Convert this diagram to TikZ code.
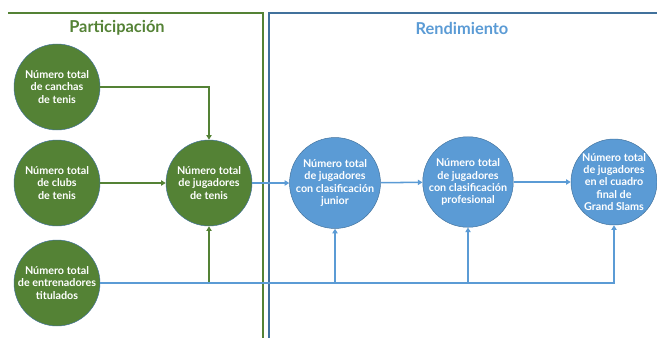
\documentclass[tikz,border=0pt]{standalone}
\usepackage{fontspec}
\setmainfont{Lato}
\usepackage{tikz}
\usetikzlibrary{arrows.meta}
\usetikzlibrary{positioning}
\usetikzlibrary{calc}
\definecolor{pgreen}{HTML}{548235}
\definecolor{rblue}{HTML}{5B9BD5}
\definecolor{rframe}{HTML}{41719C}
\tikzstyle{gvertex}=[draw=rframe,fill=pgreen,circle,minimum size=86*0.03cm,inner sep=0pt,text=white,align=center,font=\fontsize{9.2}{10.4}\selectfont\bfseries]
\tikzstyle{bvertex}=[gvertex,fill=rblue]
\tikzstyle{garrow}=[draw=pgreen,line width=1.3pt,-{Triangle[length=4pt,width=4.5pt]}]
\tikzstyle{barrow}=[draw=rblue,line width=1.3pt,-{Triangle[length=4pt,width=4.5pt]}]

\begin{document}
\begin{tikzpicture}[x=0.03cm,y=-0.03cm]
\useasboundingbox (0,0) rectangle (657,338);
% frames
\draw[pgreen,line width=1.8pt] (8,13) -- (263,13) -- (263,338);
\draw[rframe,line width=1.8pt] (657,13) -- (269,13) -- (269,338);
\node[text=pgreen,font=\fontsize{14}{16}\selectfont\bfseries] (tpart) at (117,28) {Participación};
\node[text=rblue,font=\fontsize{14}{16}\selectfont\bfseries] (trend) at (462,28) {Rendimiento};
% participation
\node [gvertex] (can) at (57,87) {Número total\\de canchas\\de tenis};
\node [gvertex] (clu) at (57,183) {Número total\\de clubs\\de tenis};
\node [gvertex] (ent) at (57,283) {Número total\\de entrenadores\\titulados};
\node [gvertex] (jug) at (209,183) {Número total\\de jugadores\\de tenis};
% performance
\node [bvertex] (jun) at (335,183) {Número total\\de jugadores\\con clasificación\\junior};
\node [bvertex] (pro) at (468,182) {Número total\\de jugadores\\con clasificación\\profesional};
\node [bvertex] (gs) at (614,182) {Número total\\de jugadores\\en el cuadro\\final de\\Grand Slams};

\draw[garrow] (can.east) -| (jug.north);
\draw[garrow] (clu) -- (jug);
\draw[garrow] (jug.south |- ent.east) -- (jug.south);
\draw[barrow] (ent.east) -| (gs.south);
\draw[barrow] (jun.south |- ent.east) -- (jun.south);
\draw[barrow] (pro.south |- ent.east) -- (pro.south);
\draw[barrow] (jug) -- (jun);
\draw[barrow] (jun) -- (pro);
\draw[barrow] (pro) -- (gs);
\end{tikzpicture}
\end{document}
